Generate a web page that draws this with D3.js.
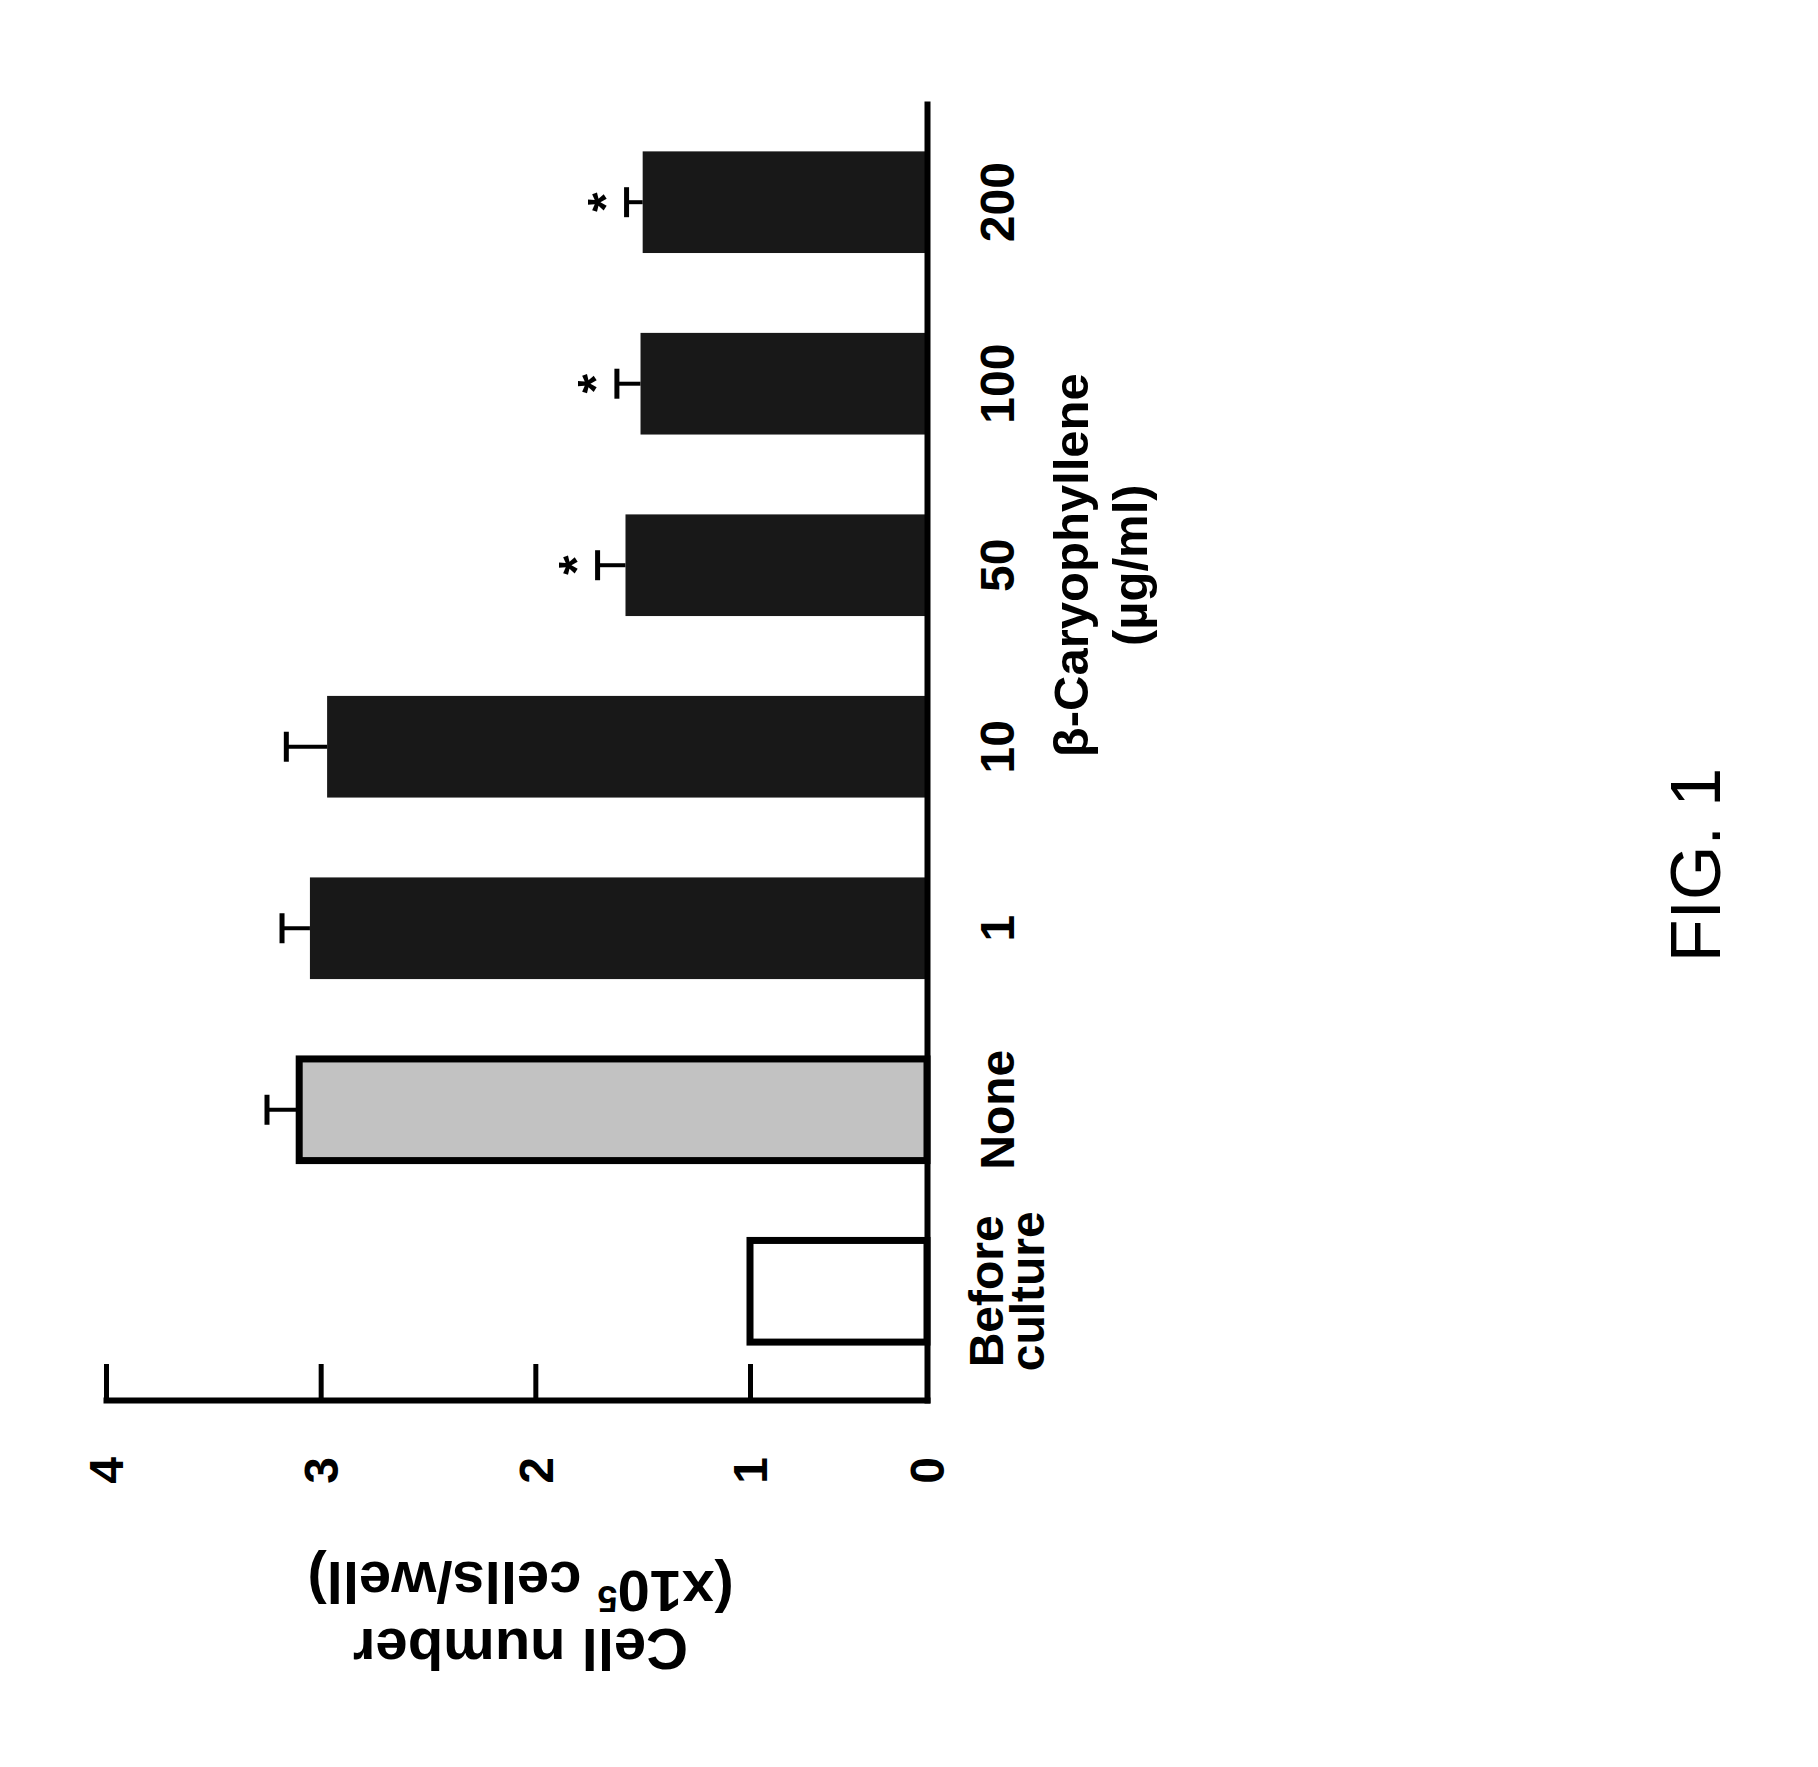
<!DOCTYPE html>
<html>
<head>
<meta charset="utf-8">
<script src="https://cdn.jsdelivr.net/npm/d3@7"></script>
<style>
  body { margin: 0; background: #ffffff; }
  text { font-family: "Liberation Sans", Arial, sans-serif; fill: #000; }
</style>
</head>
<body>
<svg id="chart" width="1818" height="1767"></svg>
<script>
// ---- data ----
const categories = ["Before culture", "None", "1", "10", "50", "100", "200"];
const means      = [1.00, 3.10, 3.05, 2.97, 1.58, 1.51, 1.50];
const sems       = [0,    0.15, 0.13, 0.19, 0.13, 0.11, 0.075];
const significant = [false, false, false, false, true, true, true];
const valueTicks = [0, 1, 2, 3, 4];
const valueTitleLine1 = "Cell number";
const valueTitleLine2 = ["(x10", "5", " cells/well)"];
const doseTitle = ["β-Caryophyllene", "(µg/ml)"];
const doseCategories = ["1", "10", "50", "100", "200"];
const figLabel = "FIG. 1";

// ---- layout ----
const svg = d3.select("#chart");
const x = d3.scaleLinear().domain([0, 1, 4]).range([927, 750, 106]);
const y = d3.scaleBand().domain(categories).range([1400, 104])
  .paddingInner(0.44).paddingOuter(0.29).align(0.45);
const bw = y.bandwidth();

const fillFor = c => c === "Before culture" ? "#ffffff" : (c === "None" ? "#c2c2c2" : "#181818");
const strokeFor = c => (c === "Before culture" || c === "None") ? 7 : 0;

const data = categories.map((c, i) => ({ c, m: means[i], s: sems[i], sig: significant[i] }));

// bars
svg.append("g").selectAll("rect").data(data).join("rect")
  .attr("x", d => x(d.m))
  .attr("y", d => y(d.c))
  .attr("width", d => x(0) - x(d.m))
  .attr("height", bw)
  .attr("fill", d => fillFor(d.c))
  .attr("stroke", "#000")
  .attr("stroke-width", d => strokeFor(d.c));

// error bars
const eb = svg.append("g").selectAll("g").data(data.filter(d => d.s > 0)).join("g");
eb.append("line")
  .attr("x1", d => x(d.m)).attr("x2", d => x(d.m + d.s))
  .attr("y1", d => y(d.c) + bw / 2).attr("y2", d => y(d.c) + bw / 2)
  .attr("stroke", "#000").attr("stroke-width", 4);
eb.append("line")
  .attr("x1", d => x(d.m + d.s)).attr("x2", d => x(d.m + d.s))
  .attr("y1", d => y(d.c) + bw / 2 - 15).attr("y2", d => y(d.c) + bw / 2 + 15)
  .attr("stroke", "#000").attr("stroke-width", 5);

// asterisks
svg.append("g").selectAll("text").data(data.filter(d => d.sig)).join("text")
  .attr("transform", d => `translate(${x(d.m + d.s) - 33},${y(d.c) + bw / 2}) rotate(-90)`)
  .attr("text-anchor", "middle")
  .attr("dy", "0.58em")
  .style("font-size", "50px").style("font-weight", "bold")
  .text("*");

// value axis
const vAxis = svg.append("g").attr("transform", "translate(0,1400)")
  .call(d3.axisBottom(x).tickValues(valueTicks).tickSize(-36).tickSizeOuter(0).tickFormat(d3.format("d")));
vAxis.select(".domain").attr("stroke-width", 6).attr("stroke-linecap", "square");
vAxis.selectAll(".tick line").attr("stroke-width", 5).filter(d => d === 0).remove();
vAxis.selectAll(".tick text")
  .attr("y", null).attr("dy", "0.35em")
  .attr("transform", "translate(0,57) rotate(-90)")
  .attr("text-anchor", "end")
  .style("font-size", "48px").style("font-weight", "bold")
  .style("font-family", "'Liberation Sans', Arial, sans-serif");

// category axis
const cAxis = svg.append("g").attr("transform", "translate(927,0)")
  .call(d3.axisRight(y).tickSize(0).tickSizeOuter(0).tickFormat(""));
cAxis.select(".domain").attr("stroke-width", 6).attr("stroke-linecap", "square");
cAxis.selectAll(".tick").each(function (c) {
  const lines = c.split(" ");
  const first = lines.length > 1 ? 76 : 87;
  const t = d3.select(this).select("text")
    .attr("x", null).attr("dy", null)
    .attr("transform", "rotate(-90)")
    .attr("text-anchor", "middle")
    .style("font-size", "48px").style("font-weight", "bold")
    .style("font-family", "'Liberation Sans', Arial, sans-serif");
  lines.forEach((ln, i) => {
    t.append("tspan").attr("x", 0).attr("y", first + i * 41).text(ln);
  });
});

// dose title
const doseMid = (y(doseCategories[0]) + y(doseCategories[doseCategories.length - 1]) + bw) / 2;
const dt = svg.append("text")
  .attr("transform", `translate(1088,${doseMid}) rotate(-90)`)
  .attr("text-anchor", "middle")
  .style("font-size", "49px").style("font-weight", "bold");
doseTitle.forEach((ln, i) => dt.append("tspan").attr("x", 0).attr("y", i * 59).text(ln));

// value title (upside down)
const vt = svg.append("text")
  .attr("transform", `translate(${(x(0) + x(4)) / 2 + 4},1629) rotate(180)`)
  .attr("text-anchor", "middle")
  .style("font-size", "58px").style("font-weight", "bold");
vt.append("tspan").attr("x", 0).attr("y", 0).text(valueTitleLine1);
const l2 = vt.append("tspan").attr("x", 0).attr("y", 58);
l2.append("tspan").text(valueTitleLine2[0]);
l2.append("tspan").attr("dy", "-0.42em").style("font-size", "36px").text(valueTitleLine2[1]);
l2.append("tspan").attr("dy", "0.42em").text(valueTitleLine2[2]);

// figure label
svg.append("text")
  .attr("transform", "translate(1720,865) rotate(-90)")
  .attr("text-anchor", "middle")
  .style("font-size", "70px")
  .text(figLabel);
</script>
</body>
</html>
